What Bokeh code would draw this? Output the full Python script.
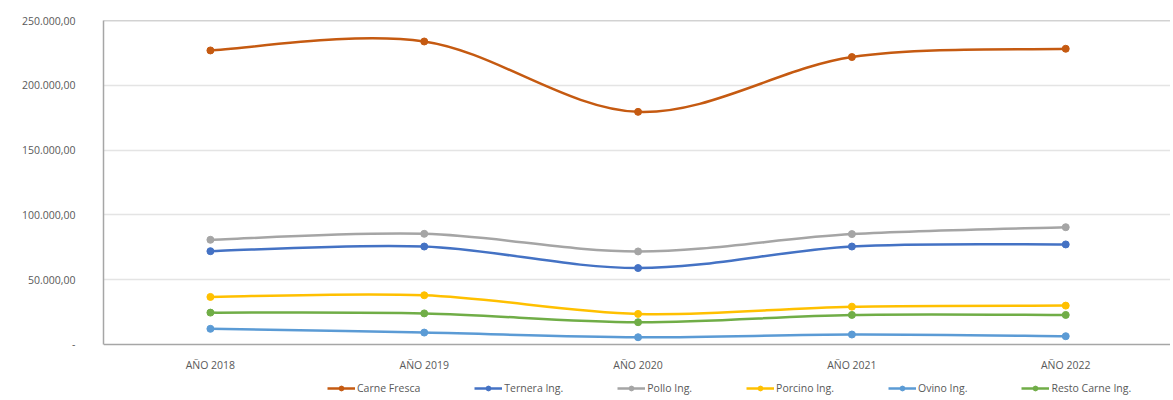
from bokeh.plotting import figure
from bokeh.models import (FixedTicker, Span, Legend, LegendItem, Range1d, ColumnDataSource)
from bokeh.embed import file_html
from bokeh.resources import INLINE

# ---- data ----
years = ["AÑO 2018", "AÑO 2019", "AÑO 2020", "AÑO 2021", "AÑO 2022"]
carne_fresca = [226900, 233800, 179500, 221800, 228200]
ternera = [72000, 75600, 59000, 75600, 77200]
pollo = [80800, 85400, 71800, 85200, 90500]
porcino = [36700, 38000, 23600, 29200, 30000]
ovino = [12100, 9200, 5600, 7700, 6400]
resto = [24600, 24000, 17200, 22800, 22800]

series_names = ["Carne Fresca", "Ternera Ing.", "Pollo Ing.", "Porcino Ing.", "Ovino Ing.", "Resto Carne Ing."]
series_values = [carne_fresca, ternera, pollo, porcino, ovino, resto]
series_colors = ["#C55A11", "#4472C4", "#A5A5A5", "#FFC000", "#5B9BD5", "#70AD47"]

y_ticks = [0, 50000, 100000, 150000, 200000, 250000]
y_labels = ["-", "50.000,00", "100.000,00", "150.000,00", "200.000,00", "250.000,00"]

FONT = "Open Sans"
TXT = "#595959"

xs = [i + 0.5 for i in range(len(years))]

# frame runs below the zero line so the legend can sit under the category labels
p = figure(frame_width=1067, frame_height=385, output_backend="svg", toolbar_location=None,
           x_range=Range1d(0, 4.99), y_range=Range1d(-47068, 250000),
           min_border_left=103, min_border_right=0, min_border_top=20, min_border_bottom=0)
p.outline_line_color = None
p.background_fill_color = "white"
p.border_fill_color = "white"

# axes
p.xaxis.ticker = FixedTicker(ticks=xs)
p.xaxis.major_label_overrides = {x: lab for x, lab in zip(xs, years)}
p.xaxis.fixed_location = 0
p.yaxis.ticker = FixedTicker(ticks=y_ticks)
p.yaxis.major_label_overrides = {t: lab for t, lab in zip(y_ticks, y_labels)}
p.yaxis.bounds = (0, 250000)
for ax in (p.xaxis[0], p.yaxis[0]):
    ax.axis_line_color = "#A6A6A6"
    ax.axis_line_width = 1.5
    ax.major_tick_line_color = None
    ax.minor_tick_line_color = None
    ax.major_label_text_font = FONT
    ax.major_label_text_font_size = "10.5px"
    ax.major_label_text_color = TXT
p.yaxis.major_label_standoff = 22
p.xaxis.major_label_standoff = 8

p.xgrid.grid_line_color = None
p.ygrid.ticker = FixedTicker(ticks=y_ticks[1:-1])
p.ygrid.grid_line_color = "#E4E4E4"
p.ygrid.grid_line_width = 1.5

p.add_layout(Span(location=250000, dimension="width", line_color="#A6A6A6", line_width=1.5))

items = []
for name, vals, col in zip(series_names, series_values, series_colors):
    n = len(vals)
    P = list(zip(xs, vals))
    x0, y0, x1, y1, cx0, cy0, cx1, cy1 = [], [], [], [], [], [], [], []
    for i in range(n - 1):
        pm = P[i - 1] if i > 0 else P[i]
        pa = P[i]
        pb = P[i + 1]
        pp = P[i + 2] if i + 2 < n else P[i + 1]
        x0.append(pa[0]); y0.append(pa[1])
        x1.append(pb[0]); y1.append(pb[1])
        cx0.append(pa[0] + (pb[0] - pm[0]) / 6); cy0.append(pa[1] + (pb[1] - pm[1]) / 6)
        cx1.append(pb[0] - (pp[0] - pa[0]) / 6); cy1.append(pb[1] - (pp[1] - pa[1]) / 6)
    src = ColumnDataSource(dict(x0=x0, y0=y0, x1=x1, y1=y1, cx0=cx0, cy0=cy0, cx1=cx1, cy1=cy1))
    bz = p.bezier(x0="x0", y0="y0", x1="x1", y1="y1", cx0="cx0", cy0="cy0", cx1="cx1", cy1="cy1",
                  source=src, line_color=col, line_width=2.5)
    sc = p.scatter(xs, vals, marker="circle", size=7, fill_color=col, line_color=col)
    items.append(LegendItem(label=name, renderers=[bz, sc]))

legend = Legend(items=items, orientation="horizontal", location=(224, 10),
                label_text_font=FONT, label_text_font_size="10.5px", label_text_color=TXT,
                glyph_width=28, glyph_height=12, label_height=14, spacing=54, padding=3, margin=0,
                label_standoff=2, border_line_color=None, background_fill_alpha=0)
p.add_layout(legend, "center")

open("out.html", "w").write(file_html(p, INLINE))
